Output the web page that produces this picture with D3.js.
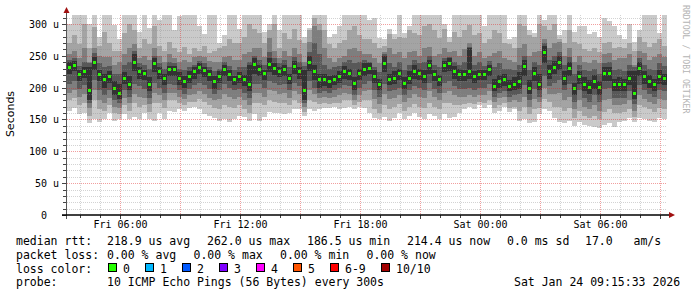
<!DOCTYPE html>
<html>
<head>
<meta charset="utf-8">
<script src="https://cdn.jsdelivr.net/npm/d3@7/dist/d3.min.js"></script>
<style>
body { margin: 0; background: #fff; }
text { font-family: "DejaVu Sans Mono", monospace; fill: #000; white-space: pre; }
</style>
</head>
<body>
<svg id="chart" width="697" height="297"></svg>
<script>
// 30 hours of smokeping data, one column per 15 minutes
var start = new Date(Date.UTC(2026, 0, 23, 3, 21)),
	col_minutes = 15;

// median rtt per column (us)
var median = [
	232,235,220,225,195,240,220,212,218,198,190,215,205,240,225,222,205,238,225,215,228,228,215,210,218,225,232,227,220,210,
	218,228,220,212,217,212,205,236,228,222,236,230,225,228,215,233,225,196,240,225,212,212,210,212,218,225,222,207,222,228,
	230,218,205,238,212,215,222,207,215,225,222,218,235,220,212,234,238,225,220,220,225,217,220,220,228,202,210,212,202,205,
	210,233,198,222,205,255,225,232,240,215,230,198,217,205,200,210,200,222,222,205,205,205,215,190,230,217,210,205,218,214];

// sorted ping times (10 pings), p10 = slowest, p1 = fastest
var p10 = [
	300,318,316,318,300,318,280,316,318,298,276,318,318,318,288,318,294,318,306,318,318,290,312,318,318,318,296,284,318,318,
	270,282,318,318,292,318,318,318,318,288,300,318,290,318,318,318,318,280,294,318,318,318,280,284,296,318,318,318,318,318,
	306,310,278,276,292,284,318,286,296,318,318,318,318,318,318,300,280,318,318,318,318,318,318,296,318,318,318,318,276,280,
	318,318,290,286,318,306,318,318,282,290,318,288,296,296,284,288,280,310,304,296,282,276,300,272,290,318,318,318,286,318];
var p9 = [
	270,282,268,300,262,295,266,288,270,258,258,285,300,290,262,276,268,296,266,258,272,262,256,264,252,262,258,266,254,258,
	262,266,276,270,270,280,300,292,286,270,290,300,262,286,276,292,274,270,290,310,300,290,268,262,270,274,290,296,282,276,
	276,270,262,266,284,276,280,278,290,286,282,296,300,290,278,292,272,288,280,290,298,282,286,270,276,290,286,270,268,262,
	300,296,282,280,300,296,290,300,276,270,290,272,268,260,258,262,256,270,272,262,264,262,270,258,280,272,264,270,276,266];
var p8 = [
	252,258,246,262,240,262,250,248,248,236,240,252,262,268,246,250,244,262,250,240,252,246,240,244,240,248,250,248,242,240,
	240,248,250,244,244,252,256,262,262,248,278,258,246,258,250,262,252,240,272,296,290,262,246,240,246,250,260,262,258,252,
	252,246,238,256,262,252,256,246,256,258,250,262,264,250,252,262,256,258,250,260,270,250,256,246,250,254,258,246,244,240,
	262,268,250,256,258,276,262,270,272,250,262,240,250,240,238,244,238,252,254,244,246,246,252,236,258,254,244,248,252,248];
var p7 = [
	244,246,234,240,238,254,238,232,234,222,222,236,240,258,238,236,230,250,238,230,240,238,230,228,232,236,242,238,232,226,
	230,240,234,228,232,232,240,250,244,236,256,246,238,244,232,248,240,234,256,270,252,236,230,232,234,240,244,238,240,244,
	240,232,224,252,238,232,240,228,236,244,238,240,250,236,232,246,248,240,236,240,264,236,240,234,242,232,238,230,230,228,
	236,250,228,240,236,270,244,250,256,236,248,222,236,228,226,230,222,238,240,228,230,226,236,232,246,236,230,228,238,234];
var p6 = [
	240,242,228,233,232,248,228,222,226,210,205,224,218,252,232,228,216,246,232,222,234,234,224,218,226,232,238,233,228,218,
	226,236,228,218,224,220,236,246,236,228,246,238,232,236,222,242,232,228,250,236,222,222,218,220,226,234,230,216,230,238,
	238,228,214,250,222,226,230,216,226,236,230,228,244,228,220,242,246,234,230,228,262,226,228,228,236,214,220,222,212,216,
	224,244,212,232,222,266,236,242,250,226,240,208,226,216,212,220,210,232,232,214,216,214,226,226,240,226,220,214,228,222];
var p5 = [
	222,226,210,215,180,228,210,200,208,188,182,205,196,226,214,212,194,224,214,204,218,218,204,200,208,214,222,216,210,198,
	208,218,210,204,208,202,194,222,218,212,224,220,216,218,206,222,214,180,226,212,200,202,200,204,208,214,212,196,212,218,
	222,208,196,224,204,206,212,198,206,214,212,208,222,210,202,224,226,214,210,210,214,208,212,212,218,194,200,202,194,196,
	198,218,190,210,196,238,214,222,228,204,218,188,206,194,190,198,188,210,210,194,194,194,204,182,218,206,200,194,206,204];
var p4 = [
	206,210,198,204,176,212,196,188,196,180,176,196,186,206,202,198,184,208,200,192,206,204,196,190,198,204,208,204,198,190,
	196,206,200,196,198,192,184,206,206,200,210,208,204,206,196,208,202,176,210,200,192,194,192,196,200,204,202,188,200,206,
	210,196,186,206,194,196,200,188,196,202,200,196,208,198,192,208,210,202,198,198,200,196,200,200,206,186,192,194,186,188,
	190,204,180,198,186,218,202,208,212,196,206,178,196,184,178,188,178,198,200,184,184,184,194,174,204,196,190,186,196,194];
var p3 = [
	192,196,186,190,168,196,180,176,184,170,168,184,176,190,186,184,174,192,188,180,192,192,186,182,188,190,194,190,184,180,
	182,190,186,182,186,180,172,192,192,186,196,194,190,192,184,194,190,170,196,190,184,186,184,186,188,192,190,180,188,194,
	196,182,174,190,182,184,188,178,184,190,186,184,194,186,180,192,194,188,186,186,188,186,188,188,194,178,184,186,178,180,
	178,186,170,182,178,200,190,190,192,180,186,166,180,170,166,172,164,180,182,172,172,174,180,164,188,182,178,174,182,180];
var p2 = [
	180,184,172,176,156,180,166,164,172,160,158,172,164,176,170,172,162,176,176,168,180,180,176,172,178,178,182,178,172,168,
	166,172,170,168,172,166,160,176,176,172,180,178,176,176,172,180,176,162,180,178,174,176,174,176,176,180,180,172,178,180,
	180,166,160,172,166,170,174,164,170,174,170,168,176,170,166,176,176,172,172,174,176,174,178,176,180,168,172,176,168,170,
	164,170,158,166,168,182,178,170,170,164,168,152,164,156,152,156,150,162,166,160,160,162,166,154,172,170,166,162,168,166];
var p1 = [
	164,168,158,160,144,150,146,150,160,148,150,158,150,154,150,160,150,148,160,150,164,162,166,164,168,170,166,158,156,152,
	148,150,146,150,156,154,148,158,148,154,162,160,160,158,160,166,166,156,166,164,166,168,168,170,166,168,170,166,170,168,
	160,152,150,154,148,152,160,150,156,160,154,150,158,156,150,158,152,154,160,166,170,166,172,168,172,160,164,170,162,166,
	148,150,144,146,158,166,164,152,146,144,148,140,146,142,140,138,136,142,144,138,146,148,152,146,152,150,148,146,152,150];

var y_ticks = [0, 50, 100, 150, 200, 250, 300];
var loss_labels = ["0", "1", "2", "3", "4", "5", "6-9", "10/10"],
	loss_colors = ["#26ff00", "#00b8ff", "#0059ff", "#7e00ff", "#ff00ff", "#ff5500", "#ff0000", "#a10000"],
	loss_box_x = [108.5, 145.5, 182.5, 219.5, 256.5, 293.5, 330.5, 381.5];

var legend_rtt = [["median rtt:", 16], ["218.9 us avg", 107], ["262.0 us max", 207], ["186.5 us min", 307], ["214.4 us now", 407], ["0.0 ms sd", 507], ["17.0   am/s", 585]],
	legend_loss = [["packet loss:", 16], ["0.00 % avg", 107], ["0.00 % max", 193.5], ["0.00 % min", 280], ["0.00 % now", 366.5]],
	legend_probe = [["probe:", 16], ["10 ICMP Echo Pings (56 Bytes) every 300s", 107], ["Sat Jan 24 09:15:33 2026", 514]];

var plot_left = 67, plot_right = 667, plot_top = 15, plot_bottom = 215, y_max = 314;

var svg = d3.select("#chart");

function colTime(i){
	return new Date(start.getTime() + i * col_minutes * 60000);
}

var x = d3.scaleUtc()
		.domain([start, colTime(median.length)])
		.range([plot_left, plot_right]);

var y = d3.scaleLinear()
		.domain([0, y_max])
		.range([plot_bottom, plot_top]);

svg.append("defs").append("clipPath")
		.attr("id", "plot-clip")
	.append("rect")
		.attr("x", plot_left)
		.attr("y", plot_top)
		.attr("width", plot_right - plot_left)
		.attr("height", plot_bottom - plot_top);

// the smoke, lightest band first
var bands = [[p1, p10, "#cacaca"], [p2, p9, "#a4a4a4"], [p3, p8, "#7e7e7e"], [p4, p7, "#585858"], [p5, p6, "#323232"]];

var smoke = svg.append("g")
		.attr("clip-path", "url(#plot-clip)")
		.attr("shape-rendering", "crispEdges");

bands.forEach(function(b){
	smoke.append("g").selectAll("rect")
			.data(median)
		.enter().append("rect")
			.attr("x", function(d, i){ return x(colTime(i)); })
			.attr("width", function(d, i){ return x(colTime(i + 1)) - x(colTime(i)); })
			.attr("y", function(d, i){ return y(b[1][i]); })
			.attr("height", function(d, i){ return y(b[0][i]) - y(b[1][i]); })
			.attr("fill", b[2]);
});

// median dots
smoke.append("g").selectAll("rect")
		.data(median)
	.enter().append("rect")
		.attr("x", function(d, i){ return (x(colTime(i)) + x(colTime(i + 1))) / 2 - 1.5; })
		.attr("width", 3)
		.attr("y", function(d){ return y(d) - 1.5; })
		.attr("height", 3)
		.attr("fill", loss_colors[0]);

// grid, drawn over the smoke like rrdtool does
var grid = svg.append("g").attr("shape-rendering", "crispEdges");
var minor_y = d3.range(10, y_max, 10).filter(function(v){ return v % 50 != 0; }),
	major_y = y_ticks.filter(function(v){ return v > 0; }),
	minor_x = x.ticks(d3.utcHour.every(1)).filter(function(t){ return t.getUTCHours() % 3 != 0; }),
	major_x = x.ticks(d3.utcHour.every(3));

grid.selectAll(".gy-minor")
		.data(minor_y)
	.enter().append("line")
		.attr("x1", plot_left).attr("x2", plot_right)
		.attr("y1", function(d){ return Math.round(y(d)) + 0.5; })
		.attr("y2", function(d){ return Math.round(y(d)) + 0.5; })
		.attr("stroke", "rgba(140,140,140,0.38)")
		.attr("stroke-dasharray", "1,1");

grid.selectAll(".gx-minor")
		.data(minor_x)
	.enter().append("line")
		.attr("x1", function(d){ return Math.round(x(d)) + 0.5; })
		.attr("x2", function(d){ return Math.round(x(d)) + 0.5; })
		.attr("y1", plot_top).attr("y2", plot_bottom)
		.attr("stroke", "rgba(140,140,140,0.38)")
		.attr("stroke-dasharray", "1,1");

grid.selectAll(".gy-major")
		.data(major_y)
	.enter().append("line")
		.attr("x1", plot_left).attr("x2", plot_right)
		.attr("y1", function(d){ return Math.round(y(d)) + 0.5; })
		.attr("y2", function(d){ return Math.round(y(d)) + 0.5; })
		.attr("stroke", "rgba(224,40,40,0.45)")
		.attr("stroke-dasharray", "1,1");

grid.selectAll(".gx-major")
		.data(major_x)
	.enter().append("line")
		.attr("x1", function(d){ return Math.round(x(d)) + 0.5; })
		.attr("x2", function(d){ return Math.round(x(d)) + 0.5; })
		.attr("y1", plot_top).attr("y2", plot_bottom)
		.attr("stroke", "rgba(224,40,40,0.45)")
		.attr("stroke-dasharray", "1,1");

// tick marks on the axes
grid.selectAll(".ty")
		.data(d3.range(0, y_max, 10))
	.enter().append("line")
		.attr("x1", function(d){ return d % 50 == 0 ? 62 : 63; }).attr("x2", 66)
		.attr("y1", function(d){ return Math.round(y(d)) + 0.5; })
		.attr("y2", function(d){ return Math.round(y(d)) + 0.5; })
		.attr("stroke", "#444");

grid.selectAll(".tx")
		.data(x.ticks(d3.utcHour.every(1)))
	.enter().append("line")
		.attr("x1", function(d){ return Math.round(x(d)) + 0.5; })
		.attr("x2", function(d){ return Math.round(x(d)) + 0.5; })
		.attr("y1", plot_bottom)
		.attr("y2", function(d){ return d.getUTCHours() % 3 == 0 ? plot_bottom + 4 : plot_bottom + 3; })
		.attr("stroke", "#444");

// axis lines and arrows
svg.append("line")
		.attr("x1", 66.5).attr("x2", 66.5)
		.attr("y1", 12).attr("y2", 219)
		.attr("stroke", "#555");

svg.append("line")
		.attr("x1", 62).attr("x2", 671)
		.attr("y1", 215).attr("y2", 215)
		.attr("stroke", "#000")
		.attr("stroke-width", 1.5);

svg.append("polygon")
		.attr("points", "63.5,13 69.5,13 66.5,7")
		.attr("fill", "#a01010");

svg.append("polygon")
		.attr("points", "669,212 669,218 675,215")
		.attr("fill", "#a01010");

// y axis labels
var y_axis = svg.append("g")
		.attr("transform", "translate(66,0)")
		.call(d3.axisLeft(y)
			.tickValues(y_ticks)
			.tickSize(0)
			.tickPadding(7)
			.tickFormat(function(d){ return d == 0 ? "0" : d + " u"; }));
y_axis.select(".domain").remove();
y_axis.selectAll("text")
		.attr("font-family", "DejaVu Sans Mono, monospace")
		.attr("font-size", "10px")
		.attr("dy", "0.35em")
		.attr("dx", function(d){ return d == 0 ? -12 : 0; });

// x axis labels
var x_axis = svg.append("g")
		.attr("transform", "translate(0," + plot_bottom + ")")
		.call(d3.axisBottom(x)
			.ticks(d3.utcHour.every(6))
			.tickSize(0)
			.tickPadding(6)
			.tickFormat(d3.utcFormat("%a %H:%M")));
x_axis.select(".domain").remove();
x_axis.selectAll("text")
		.attr("font-family", "DejaVu Sans Mono, monospace")
		.attr("font-size", "10px");

svg.append("text")
		.attr("transform", "translate(14,114) rotate(-90)")
		.attr("text-anchor", "middle")
		.style("font-family", "DejaVu Sans, sans-serif")
		.style("font-size", "11px")
		.text("Seconds");

svg.append("text")
		.attr("transform", "translate(683,5) rotate(90)")
		.style("font-size", "8.2px")
		.style("fill", "#b4b4b4")
		.text("RRDTOOL / TOBI OETIKER");

// legend
var legend = svg.append("g").style("font-size", "11.5px");

function legendRow(items, base){
	legend.selectAll(null)
			.data(items)
		.enter().append("text")
			.attr("x", function(d){ return d[1]; })
			.attr("y", base)
			.text(function(d){ return d[0]; });
}

legendRow(legend_rtt, 245);
legendRow(legend_loss, 258.8);
legendRow([["loss color:", 16]], 272.6);
legendRow(legend_probe, 286.4);

legend.selectAll(".loss-box")
		.data(loss_labels)
	.enter().append("rect")
		.attr("x", function(d, i){ return loss_box_x[i]; })
		.attr("y", 263.5)
		.attr("width", 8)
		.attr("height", 8)
		.attr("fill", function(d, i){ return loss_colors[i]; })
		.attr("stroke", "#000")
		.attr("stroke-width", 1);

legend.selectAll(".loss-label")
		.data(loss_labels)
	.enter().append("text")
		.attr("x", function(d, i){ return loss_box_x[i] + 14.5; })
		.attr("y", 272.6)
		.text(function(d){ return d; });
</script>
</body>
</html>
